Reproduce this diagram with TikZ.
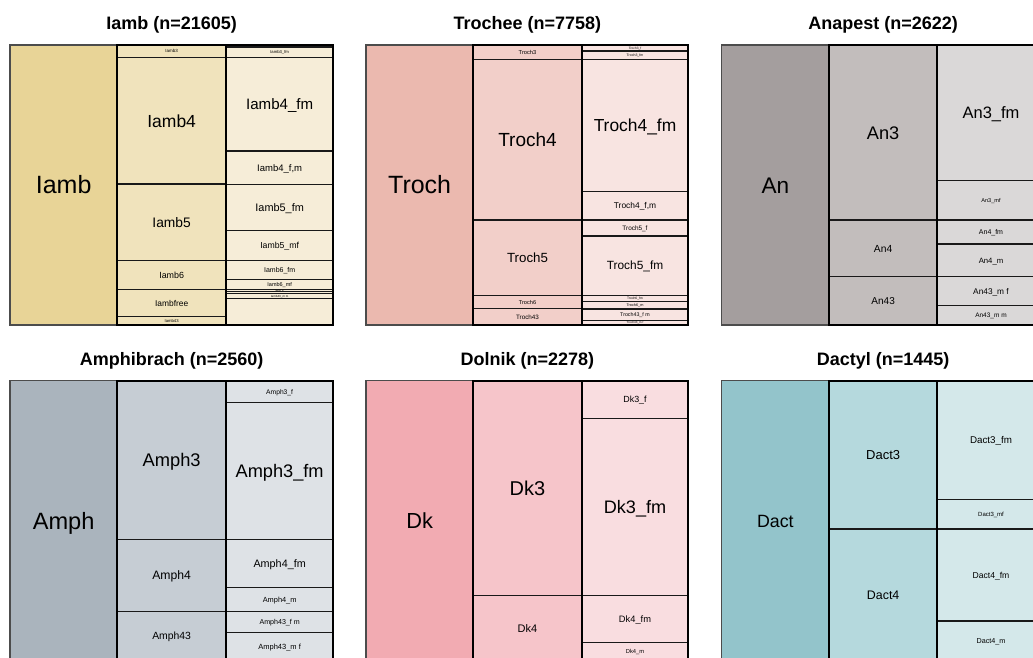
\documentclass[tikz,border=0pt]{standalone}
\usepackage{fontspec}
\setmainfont{Liberation Sans}
\tikzset{
  cellbox/.style={draw=black!90,line width=1.3pt},
  topbox/.style={draw=black!70,line width=1.2pt},
  colframe/.style={draw=black,line width=2pt},
  lab/.style={inner sep=0pt,anchor=base,text=black},
  ttl/.style={inner sep=0pt,anchor=base,font=\fontsize{18}{18}\selectfont\bfseries}
}
% \cell{x1}{x2}{y1}{y2}{fill}{size}{text}{name}
\newcommand\cell[8]{%
  \filldraw[cellbox,fill=#5] (#1,#3) rectangle (#2,#4);
  \node[lab,font=\fontsize{#6}{#6}\selectfont] (#8) at ({(#1+#2)/2},{(#3+#4)/2+0.358*#6}) {#7};}
\newcommand\topcell[8]{%
  \filldraw[topbox,fill=#5] (#1,#3) rectangle (#2,#4);
  \node[lab,font=\fontsize{#6}{#6}\selectfont] (#8) at ({(#1+#2)/2},{(#3+#4)/2+0.358*#6}) {#7};}
\definecolor{ia1}{HTML}{E8D497}\definecolor{ia2}{HTML}{F0E3BC}\definecolor{ia3}{HTML}{F6EDD8}
\definecolor{tr1}{HTML}{EBB9AF}\definecolor{tr2}{HTML}{F2CFC9}\definecolor{tr3}{HTML}{F8E4E1}
\definecolor{an1}{HTML}{A49E9E}\definecolor{an2}{HTML}{C2BDBC}\definecolor{an3}{HTML}{DAD8D8}
\definecolor{am1}{HTML}{AAB4BD}\definecolor{am2}{HTML}{C6CDD4}\definecolor{am3}{HTML}{DEE2E6}
\definecolor{dk1}{HTML}{F2ABB2}\definecolor{dk2}{HTML}{F6C5CA}\definecolor{dk3}{HTML}{F9DDE0}
\definecolor{da1}{HTML}{93C4CB}\definecolor{da2}{HTML}{B5D9DD}\definecolor{da3}{HTML}{D4E8EA}
\begin{document}
\begin{tikzpicture}[x=1pt,y=-1pt]
\fill[white] (0,0) rectangle (1033,657);
\clip (0,0) rectangle (1033,657);
% ---------------- Panel 1: Iamb
\node[ttl] (t1) at (171.7,29.3) {Iamb (n=21605)};
\topcell{10}{117.3}{45}{325}{ia1}{25}{Iamb}{i0}
\cell{117.3}{226}{45}{57.7}{ia2}{4.5}{Iamb3}{i1}
\cell{117.3}{226}{57.7}{184}{ia2}{17.5}{Iamb4}{i2}
\cell{117.3}{226}{184}{260.3}{ia2}{13.8}{Iamb5}{i3}
\cell{117.3}{226}{260.3}{289.7}{ia2}{8.9}{Iamb6}{i4}
\cell{117.3}{226}{289.7}{316.7}{ia2}{8.4}{Iambfree}{i5}
\cell{117.3}{226}{316.7}{325}{ia2}{4.2}{Iamb43}{i6}
\cell{226}{333.3}{45}{46.9}{ia3}{1.5}{}{j0}
\cell{226}{333.3}{46.9}{57.7}{ia3}{4.2}{Iamb3\_fm}{j1}
\cell{226}{333.3}{57.7}{151}{ia3}{15.1}{Iamb4\_fm}{j2}
\cell{226}{333.3}{151}{184.3}{ia3}{9.5}{Iamb4\_f,m}{j3}
\cell{226}{333.3}{184.3}{230.7}{ia3}{10.9}{Iamb5\_fm}{j4}
\cell{226}{333.3}{230.7}{260.3}{ia3}{8.7}{Iamb5\_mf}{j5}
\cell{226}{333.3}{260.3}{279.3}{ia3}{7}{Iamb6\_fm}{j6}
\cell{226}{333.3}{279.3}{289.3}{ia3}{5.5}{Iamb6\_mf}{j7}
\cell{226}{333.3}{289.3}{291.5}{ia3}{2}{Iamb6\_m}{j8}
\cell{226}{333.3}{291.5}{293.7}{ia3}{1.5}{}{j9}
\cell{226}{333.3}{293.7}{298.3}{ia3}{3}{Iamb43\_m m}{j10}
\cell{226}{333.3}{298.3}{325}{ia3}{3}{}{j11}
\draw[colframe] (117.3,45) rectangle (226,325);
\draw[colframe] (226,45) rectangle (333.3,325);
% ---------------- Panel 2: Trochee
\node[ttl] (t2) at (527.3,29.3) {Trochee (n=7758)};
\topcell{366}{473.3}{45}{325}{tr1}{25}{Troch}{k0}
\cell{473.3}{581.7}{45}{59.3}{tr2}{5.7}{Troch3}{k1}
\cell{473.3}{581.7}{59.3}{220}{tr2}{19}{Troch4}{k2}
\cell{473.3}{581.7}{220}{295.3}{tr2}{13.3}{Troch5}{k3}
\cell{473.3}{581.7}{295.3}{308.7}{tr2}{5.6}{Troch6}{k4}
\cell{473.3}{581.7}{308.7}{325}{tr2}{6.3}{Troch43}{k5}
\cell{581.7}{688.3}{45}{51}{tr3}{3.2}{Troch3\_f}{l1}
\cell{581.7}{688.3}{51}{59.3}{tr3}{3.5}{Troch3\_fm}{l2}
\cell{581.7}{688.3}{59.3}{191.7}{tr3}{17.4}{Troch4\_fm}{l3}
\cell{581.7}{688.3}{191.7}{220}{tr3}{8.4}{Troch4\_f,m}{l4}
\cell{581.7}{688.3}{220}{236}{tr3}{6.4}{Troch5\_f}{l5}
\cell{581.7}{688.3}{236}{295.3}{tr3}{11.9}{Troch5\_fm}{l6}
\cell{581.7}{688.3}{295.3}{301.3}{tr3}{3.3}{Troch6\_fm}{l7}
\cell{581.7}{688.3}{301.3}{309}{tr3}{3.8}{Troch6\_m}{l8}
\cell{581.7}{688.3}{309}{320.3}{tr3}{5.3}{Troch43\_f m}{l9}
\cell{581.7}{688.3}{320.3}{325}{tr3}{3}{Troch43\_m f}{l10}
\draw[colframe] (473.3,45) rectangle (581.7,325);
\draw[colframe] (581.7,45) rectangle (688.3,325);
% ---------------- Panel 3: Anapest
\node[ttl] (t3) at (883.2,29.3) {Anapest (n=2622)};
\topcell{721.7}{829}{45}{325}{an1}{22.6}{An}{m0}
\cell{829}{937.3}{45}{220}{an2}{18.2}{An3}{m1}
\cell{829}{937.3}{220}{276.7}{an2}{10.3}{An4}{m2}
\cell{829}{937.3}{276.7}{325}{an2}{10}{An43}{m3}
\cell{937.3}{1044.7}{45}{180.7}{an3}{16.5}{An3\_fm}{n1}
\cell{937.3}{1044.7}{180.7}{220}{an3}{5.6}{An3\_mf}{n2}
\cell{937.3}{1044.7}{220}{244}{an3}{7}{An4\_fm}{n3}
\cell{937.3}{1044.7}{244}{276.7}{an3}{7.7}{An4\_m}{n4}
\cell{937.3}{1044.7}{276.7}{305.7}{an3}{8.3}{An43\_m f}{n5}
\cell{937.3}{1044.7}{305.7}{325}{an3}{6.5}{An43\_m m}{n6}
\draw[colframe] (829,45) rectangle (937.3,325);
\draw[colframe] (937.3,45) rectangle (1044.7,325);
% ---------------- Panel 4: Amphibrach
\node[ttl] (t4) at (171.7,365) {Amphibrach (n=2560)};
\topcell{10}{117.3}{380.7}{660.7}{am1}{23.6}{Amph}{p0}
\cell{117.3}{226}{380.7}{539.3}{am2}{18.3}{Amph3}{p1}
\cell{117.3}{226}{539.3}{611.7}{am2}{12.2}{Amph4}{p2}
\cell{117.3}{226}{611.7}{660.7}{am2}{10.4}{Amph43}{p3}
\cell{226}{333.3}{380.7}{402.7}{am3}{6.7}{Amph3\_f}{q1}
\cell{226}{333.3}{402.7}{539.3}{am3}{18.2}{Amph3\_fm}{q2}
\cell{226}{333.3}{539.3}{587.7}{am3}{10.8}{Amph4\_fm}{q3}
\cell{226}{333.3}{587.7}{611.7}{am3}{7.4}{Amph4\_m}{q4}
\cell{226}{333.3}{611.7}{632.7}{am3}{7.1}{Amph43\_f m}{q5}
\cell{226}{333.3}{632.7}{660.7}{am3}{7.5}{Amph43\_m f}{q6}
\draw[colframe] (117.3,380.7) rectangle (226,660.7);
\draw[colframe] (226,380.7) rectangle (333.3,660.7);
% ---------------- Panel 5: Dolnik
\node[ttl] (t5) at (527.3,365) {Dolnik (n=2278)};
\topcell{366}{473.3}{380.7}{660.7}{dk1}{21.8}{Dk}{r0}
\cell{473.3}{581.7}{380.7}{595.7}{dk2}{20}{Dk3}{r1}
\cell{473.3}{581.7}{595.7}{660.7}{dk2}{11}{Dk4}{r2}
\cell{581.7}{688.3}{380.7}{418.3}{dk3}{8.9}{Dk3\_f}{s1}
\cell{581.7}{688.3}{418.3}{595.7}{dk3}{18.1}{Dk3\_fm}{s2}
\cell{581.7}{688.3}{595.7}{642.3}{dk3}{9.3}{Dk4\_fm}{s3}
\cell{581.7}{688.3}{642.3}{660.7}{dk3}{5.8}{Dk4\_m}{s4}
\draw[colframe] (473.3,380.7) rectangle (581.7,660.7);
\draw[colframe] (581.7,380.7) rectangle (688.3,660.7);
% ---------------- Panel 6: Dactyl
\node[ttl] (t6) at (883.2,365) {Dactyl (n=1445)};
\topcell{721.7}{829}{380.7}{660.7}{da1}{17.8}{Dact}{u0}
\cell{829}{937.3}{380.7}{529}{da2}{13}{Dact3}{u1}
\cell{829}{937.3}{529}{660.7}{da2}{12.4}{Dact4}{u2}
\cell{937.3}{1044.7}{380.7}{499.3}{da3}{9.8}{Dact3\_fm}{v1}
\cell{937.3}{1044.7}{499.3}{529}{da3}{6}{Dact3\_mf}{v2}
\cell{937.3}{1044.7}{529}{621}{da3}{8.6}{Dact4\_fm}{v3}
\cell{937.3}{1044.7}{621}{660.7}{da3}{7.2}{Dact4\_m}{v4}
\draw[colframe] (829,380.7) rectangle (937.3,660.7);
\draw[colframe] (937.3,380.7) rectangle (1044.7,660.7);
\end{tikzpicture}
\end{document}
